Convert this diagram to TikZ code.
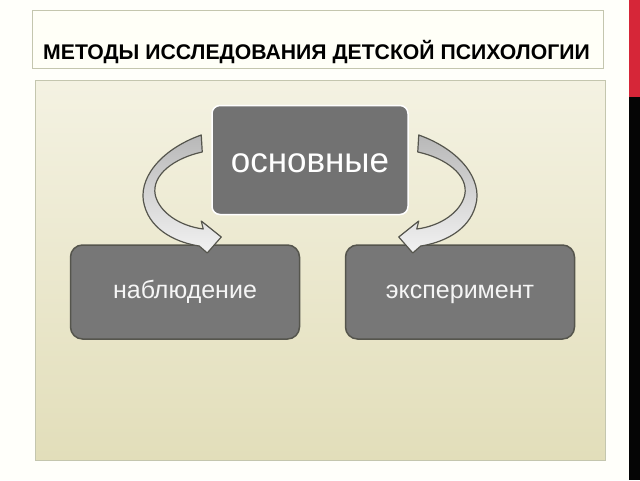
\documentclass[tikz,border=0pt]{standalone}
\usepackage{fontspec}
\setmainfont{Liberation Sans}
\usetikzlibrary{positioning}
\definecolor{boxgray}{HTML}{777777}
\definecolor{edgegray}{HTML}{55554D}
\definecolor{papertop}{HTML}{F4F2E2}
\definecolor{paperbot}{HTML}{E2DEBA}
\definecolor{paperedge}{HTML}{C4C6AE}
\definecolor{barred}{HTML}{D62638}
\definecolor{barblack}{HTML}{050505}
\tikzset{
  method/.style={draw=edgegray,line width=1.5pt,fill=boxgray,rounded corners=12pt,
    minimum width=229pt,minimum height=94pt,text=white!96!black,text height=13pt,text depth=0pt,
    font=\fontsize{25}{28}\selectfont},
  bentarrow/.pic={
    \draw[draw=edgegray,line width=1.2pt,line join=round,top color=black!28,bottom color=white!95!black]
      (-10,-25) .. controls (-52,-10) and (-74,20) .. (-67,45)
      .. controls (-60,72) and (-32,83) .. (-12,86) -- (-4,93) -- (10,77) -- (-10,61) -- (-8,69)
      .. controls (-32,66) and (-52,52) .. (-56,35)
      .. controls (-60,15) and (-37,-2) .. (-9,-8) -- cycle;
  }
}
\begin{document}
\begin{tikzpicture}
\pgfsetxvec{\pgfpoint{1pt}{0}}
\pgfsetyvec{\pgfpoint{0}{-1pt}}
  \useasboundingbox[fill=white!98!yellow] (0,0) rectangle (640,480);
  \fill[barred] (629,0) rectangle (640,97);
  \fill[barblack] (629,97) rectangle (640,480);
  \draw[paperedge,line width=1pt,fill=white!97!yellow] (32,10) rectangle (603,68);
  \draw[paperedge,line width=1pt,top color=papertop,bottom color=paperbot] (35,80) rectangle (605,460);
  \node[anchor=base west,inner sep=0pt,font=\fontsize{21.2}{24}\bfseries] (title) at (43,59)
    {МЕТОДЫ ИССЛЕДОВАНИЯ ДЕТСКОЙ ПСИХОЛОГИИ};
  \node[draw=white,line width=1.5pt,fill=boxgray!96!black,rounded corners=8pt,minimum width=196pt,
    minimum height=109pt,text=white,text height=18pt,text depth=0pt,
    font=\fontsize{35}{40}\selectfont] (main) at (310,160) {\raisebox{-3pt}{основные}};
  \node[method] (observe) at (185,292) {наблюдение};
  \node[method] (experiment) at (460,292) {эксперимент};
  \pic at (main.west) {bentarrow};
  \pic[xscale=-1] at (main.east) {bentarrow};
\end{tikzpicture}
\end{document}
